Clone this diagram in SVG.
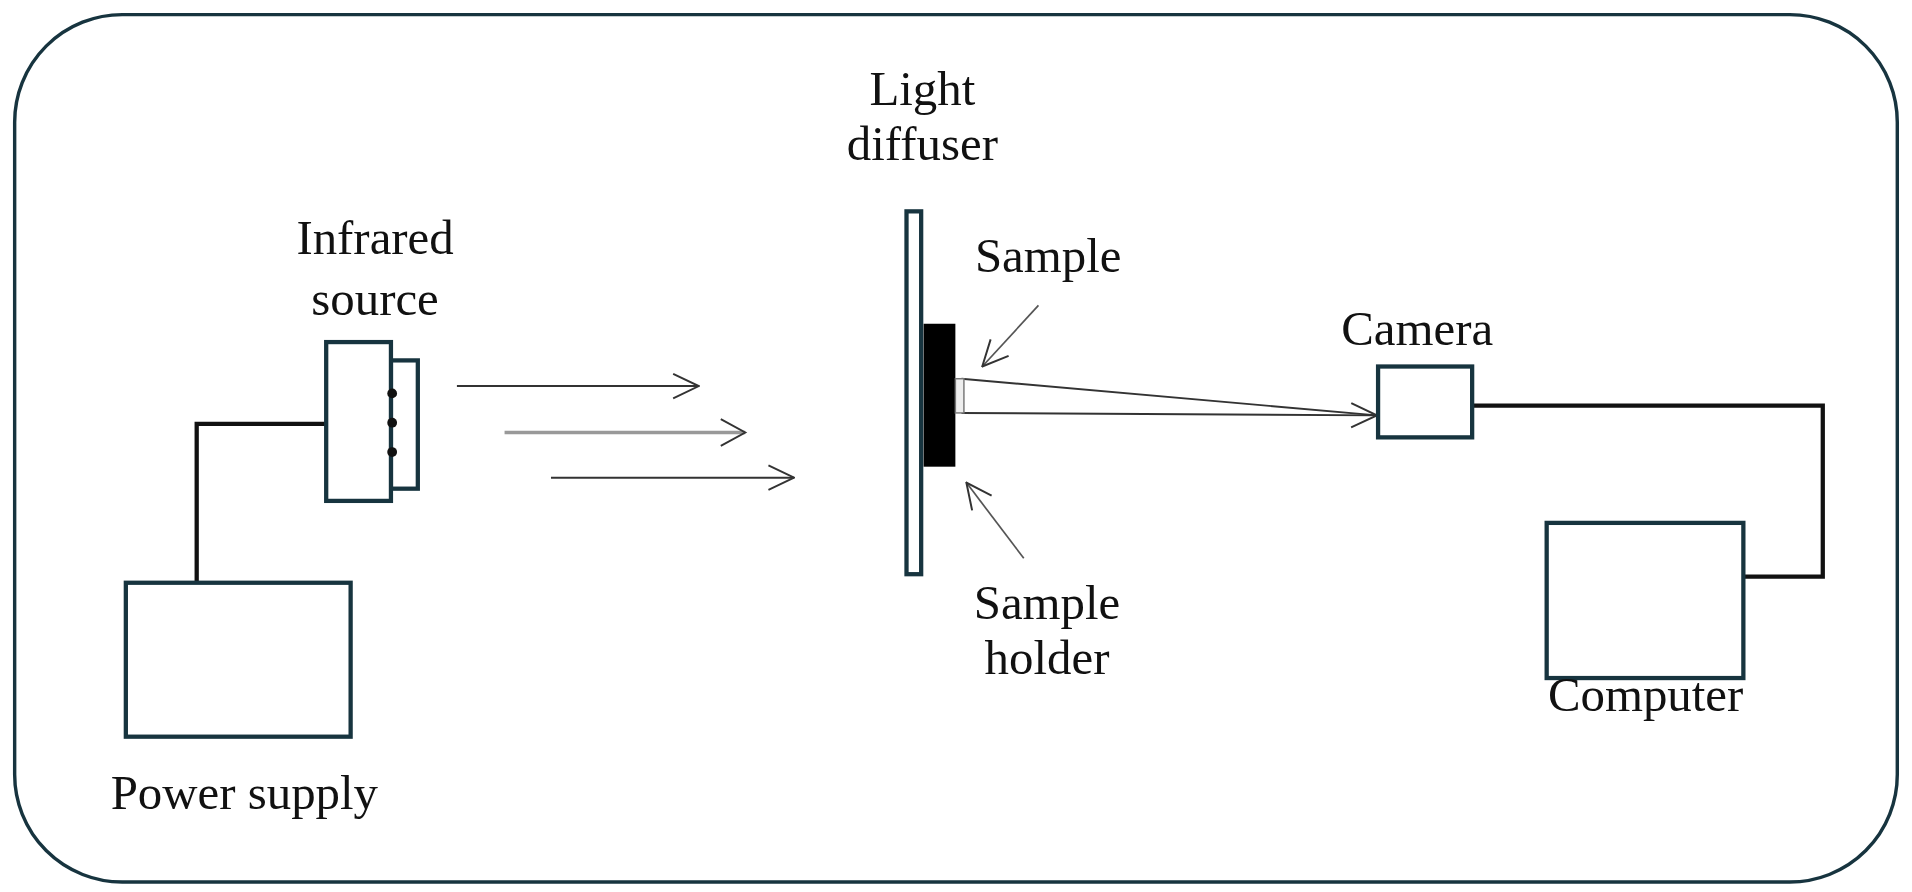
<svg xmlns="http://www.w3.org/2000/svg" width="1912" height="892" viewBox="0 0 1912 892">
<style>
.b{fill:#fff;stroke:#17343f;stroke-width:3.5}
.w{fill:none;stroke:#111;stroke-width:3.5}
.t{font-family:"Liberation Serif",serif;font-size:40px;fill:#111;text-anchor:middle}
.r{fill:none;stroke:#333;stroke-width:1.6}
</style>
<defs>
<marker id="big" viewBox="0 0 24 24" refX="23" refY="12" markerWidth="24" markerHeight="24" markerUnits="userSpaceOnUse" orient="auto"><path d="M2,2 L23,12 L2,22" fill="none" stroke="#333" stroke-width="1.6"/></marker>
</defs>
<rect width="1912" height="892" fill="#fff"/>
<g transform="scale(1.2217)">
<rect x="12" y="12" width="1541" height="710" rx="88" fill="none" stroke="#17343f" stroke-width="2.8"/>
<g id="connectors">
<polyline class="w" points="267,347 161,347 161,477"/>
<polyline class="w" points="1205,332 1492,332 1492,472 1428,472"/>
<line class="r" x1="374" y1="316" x2="572" y2="316" marker-end="url(#big)"/>
<line x1="413" y1="354" x2="610" y2="354" stroke="#999" stroke-width="3"/>
<path d="M590,343 L610,354 L590,365" fill="none" stroke="#333" stroke-width="1.6"/>
<line class="r" x1="451" y1="391" x2="650" y2="391" marker-end="url(#big)"/>
<line class="r" x1="787" y1="310" x2="1127" y2="340"/>
<line class="r" x1="787" y1="338" x2="1127" y2="340" marker-end="url(#big)"/>
<line x1="850" y1="250" x2="804" y2="300" stroke="#555" stroke-width="1.4" marker-end="url(#big)"/>
<line x1="838" y1="457" x2="791" y2="395" stroke="#555" stroke-width="1.4" marker-end="url(#big)"/>
</g>
<g id="power-supply"><rect class="b" x="103" y="477" width="184" height="126"/><text class="t" x="200" y="662">Power supply</text></g>
<g id="infrared-source">
<rect class="b" x="320" y="295" width="22" height="105"/>
<rect class="b" x="267" y="280" width="53" height="130"/>
<circle cx="321" cy="322" r="4" fill="#111"/><circle cx="321" cy="346" r="4" fill="#111"/><circle cx="321" cy="370" r="4" fill="#111"/>
<text class="t" x="307" y="208">Infrared</text><text class="t" x="307" y="258">source</text>
</g>
<g id="light-diffuser"><rect class="b" x="742" y="173" width="12" height="297" stroke-width="3"/><text class="t" x="755" y="86">Light</text><text class="t" x="755" y="131">diffuser</text></g>
<g id="sample-holder"><rect x="756" y="265" width="26" height="117" fill="#000"/><text class="t" x="857" y="507">Sample</text><text class="t" x="857" y="552">holder</text></g>
<g id="sample"><rect x="782" y="310" width="7" height="28" fill="#eee" stroke="#777" stroke-width="1.2"/><text class="t" x="858" y="223">Sample</text></g>
<g id="camera"><rect class="b" x="1128" y="300" width="77" height="58"/><text class="t" x="1160" y="282">Camera</text></g>
<g id="computer"><rect class="b" x="1266" y="428" width="161" height="127"/><text class="t" x="1347" y="582">Computer</text></g>
</g>
</svg>
